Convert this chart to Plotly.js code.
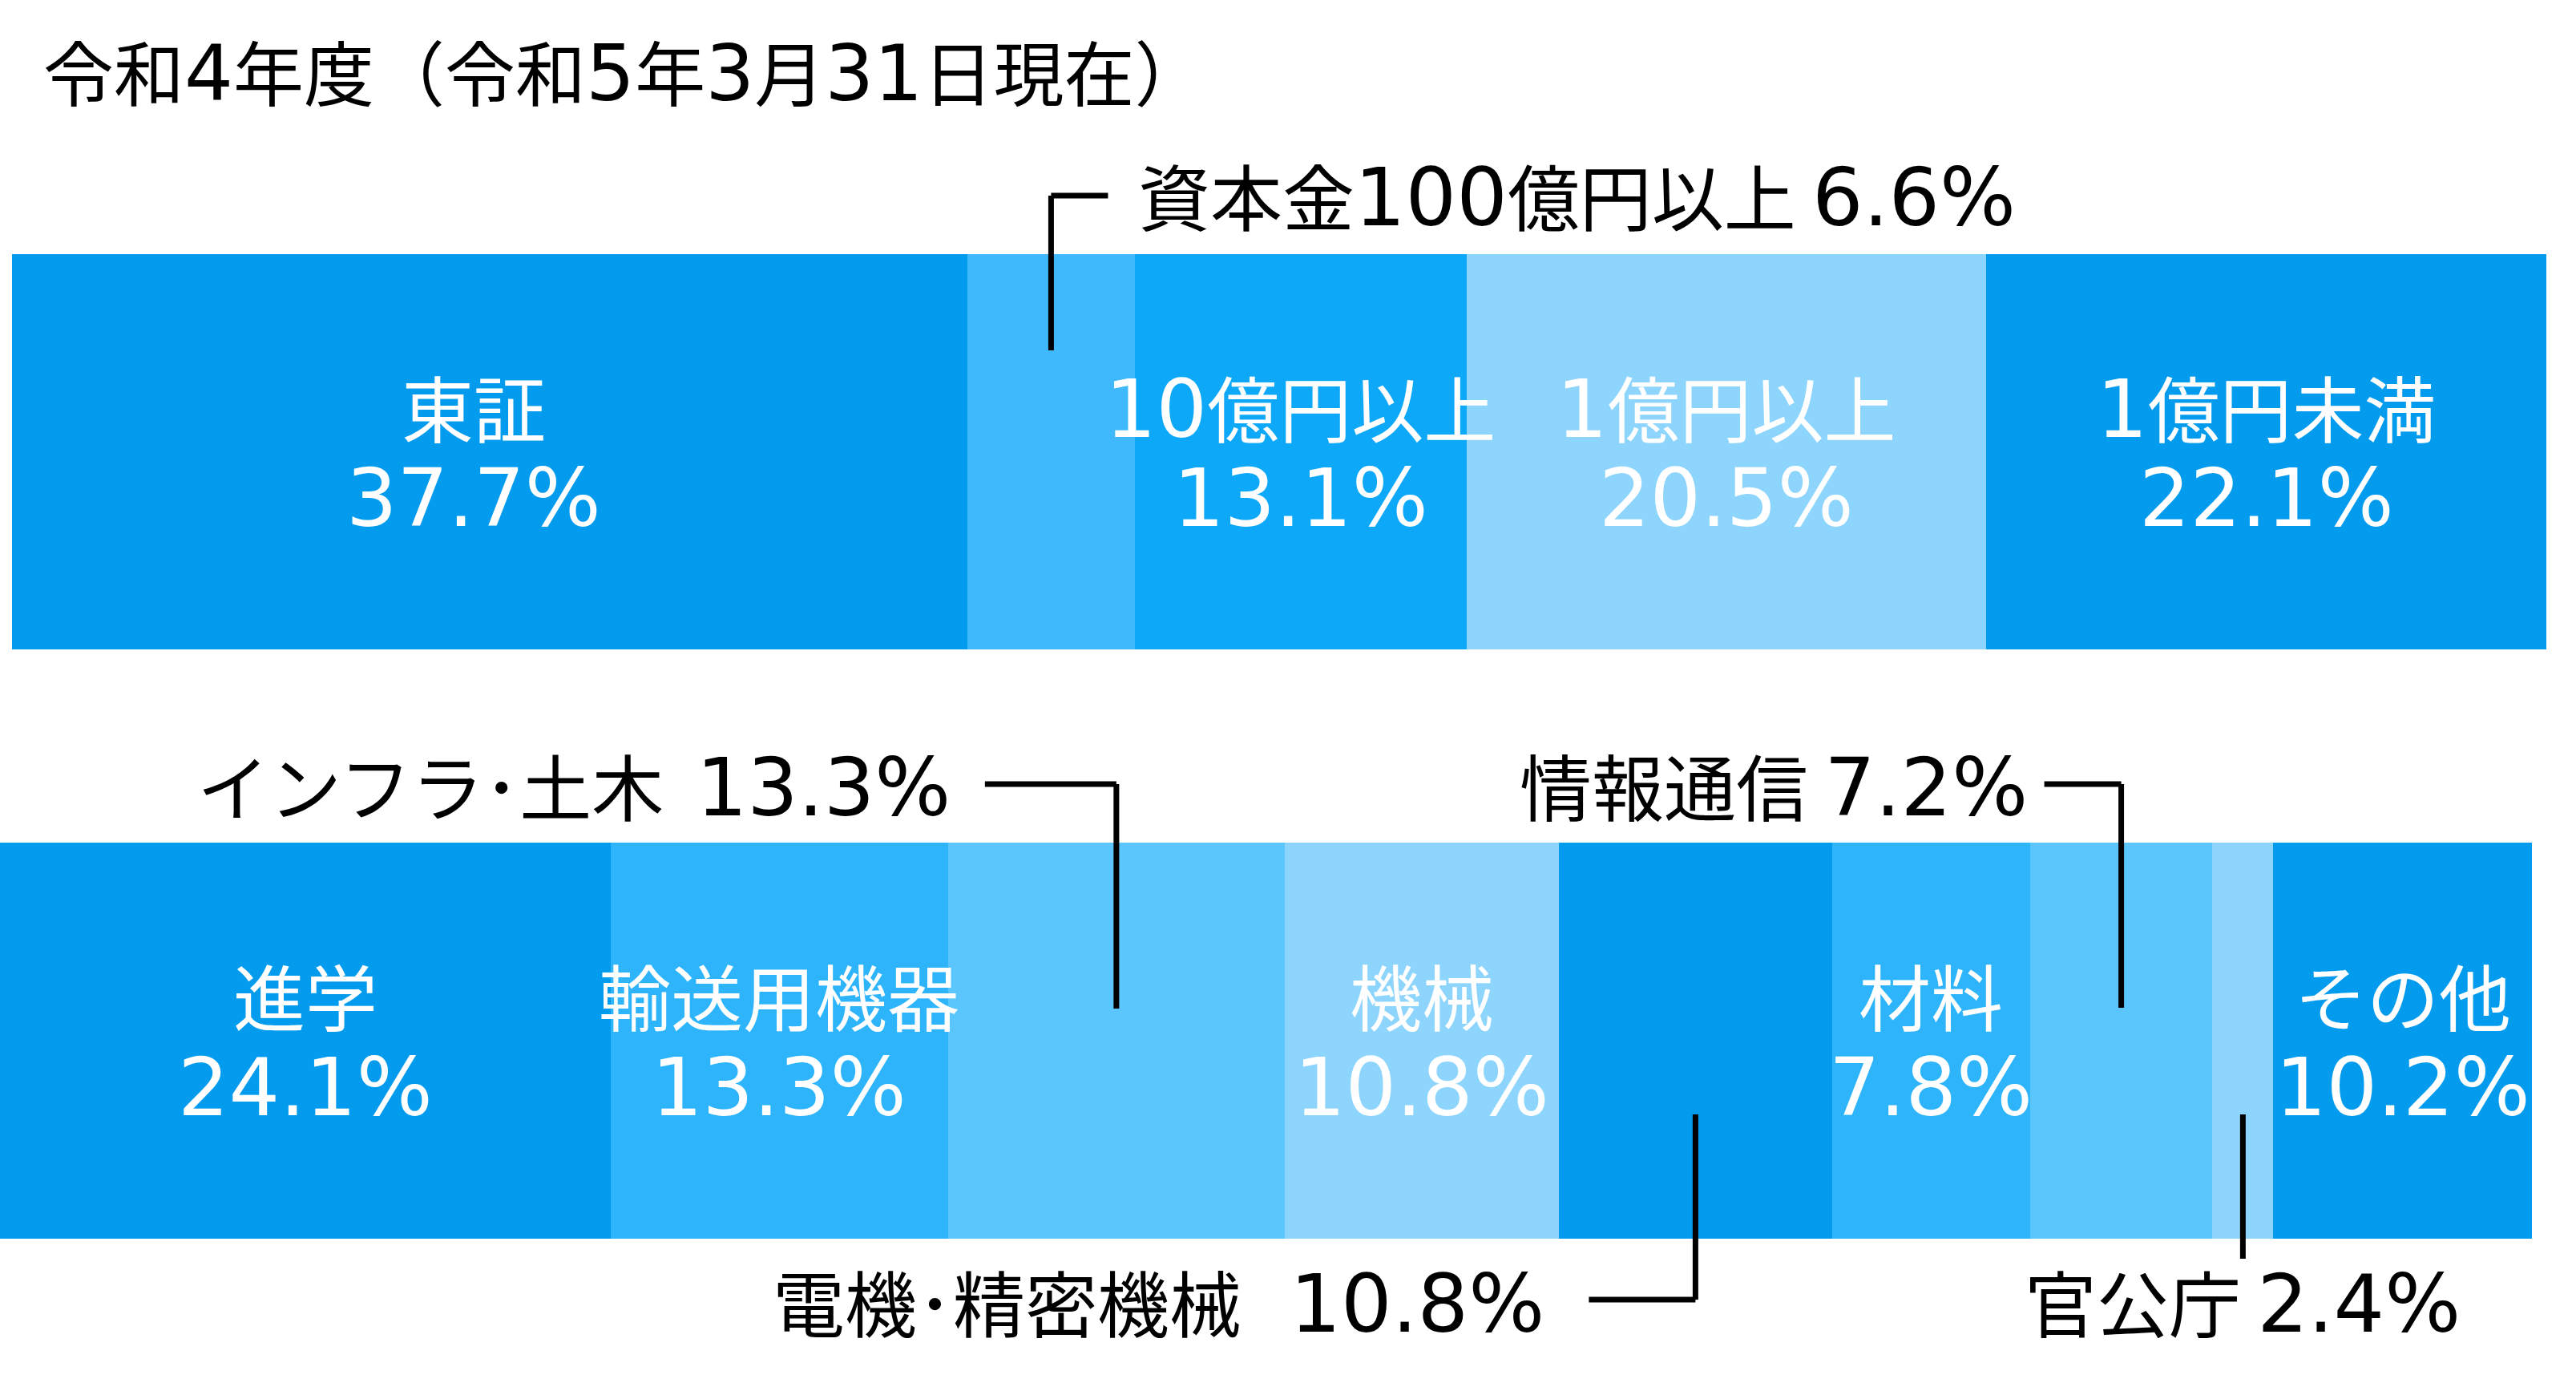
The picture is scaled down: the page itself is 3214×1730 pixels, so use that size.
<!DOCTYPE html>
<html><head><meta charset="utf-8">
<script src="https://cdn.plot.ly/plotly-3.0.1.min.js"></script>
<style>html,body{margin:0;padding:0;background:#fff}</style>
</head><body><div id="chart" style="width:3214px;height:1730px"></div>
<script>
// ---- data ----
const titleText = '令和4年度（令和5年3月31日現在）';
const topCategories = ['東証', '資本金100億円以上', '10億円以上', '1億円以上', '1億円未満'];
const topValues = [37.7, 6.6, 13.1, 20.5, 22.1];
const bottomCategories = ['進学', '輸送用機器', 'インフラ･土木', '機械', '電機･精密機械', '材料', '情報通信', '官公庁', 'その他'];
const bottomValues = [24.1, 13.3, 13.3, 10.8, 10.8, 7.8, 7.2, 2.4, 10.2];

// ---- styles ----
const W = 3214, H = 1730;
const FONT = "'Noto Sans CJK JP', 'Noto Sans', sans-serif";
const DIGIT_FONT = "'DejaVu Sans'";
const topColors = ['#039BEE', '#3FB9FB', '#0EA8F9', '#8ED5FD', '#039BEE'];
const bottomColors = ['#039BEE', '#2DB4FB', '#5BC5FD', '#8ED5FD', '#039BEE', '#2DB4FB', '#5BC5FD', '#8ED5FD', '#039BEE'];
const LABEL_SIZE = 90, DIGIT_SIZE = 100;
const labelShift = {'東証': -20};

// callout layout (pixel geometry relative to segment centre)
const callouts = {
  top: {
    '資本金100億円以上': {sep: ' ', lines: [[71, 244, 0, 244], [0, 244, 0, 437]], tx: 107, ty: 242, anchor: 'left'}
  },
  bottom: {
    'インフラ･土木': {sep: '  ', lines: [[-164, 978, 0, 978], [0, 978, 0, 1258]], tx: -205, ty: 978, anchor: 'right'},
    '情報通信': {sep: ' ', lines: [[-96, 978, 0, 978], [0, 978, 0, 1257]], tx: -115, ty: 978, anchor: 'right'},
    '電機･精密機械': {sep: '   ', lines: [[0, 1390, 0, 1621], [0, 1621, -133, 1621]], tx: -186, ty: 1622, anchor: 'right'},
    '官公庁': {sep: ' ', lines: [[0, 1390, 0, 1570]], tx: 0, ty: 1622, anchor: 'center'}
  }
};

function fmt(s, size) {
  return s.replace(/[0-9.%]+/g, m =>
    '<span style="font-family:' + DIGIT_FONT + ';font-size:' + size + 'px">' + m + '</span>');
}

const traces = [], annotations = [], shapes = [];
function addBar(cats, vals, colors, xa, ya, calloutCfg) {
  let cum = 0;
  cats.forEach((c, i) => {
    traces.push({
      type: 'bar', orientation: 'h', x: [vals[i]], y: [0], width: 1,
      xaxis: xa, yaxis: ya, marker: {color: colors[i], line: {width: 0}},
      hoverinfo: 'skip', showlegend: false, name: c
    });
    const ctr = cum + vals[i] / 2;
    cum += vals[i];
    const pct = vals[i].toFixed(1) + '%';
    const xr = xa === 'x' ? 'x' : 'x2';
    const yr = ya === 'y' ? 'y' : 'y2';
    const co = calloutCfg[c];
    if (!co) {
      const xs = labelShift[c] || 0;
      annotations.push({
        xref: xr, yref: yr, x: ctr, y: 0, xshift: xs, yshift: 58, yanchor: 'middle',
        showarrow: false, text: fmt(c, DIGIT_SIZE),
        font: {family: FONT, size: LABEL_SIZE, color: '#ffffff'}
      });
      annotations.push({
        xref: xr, yref: yr, x: ctr, y: 0, xshift: xs, yshift: -58, yanchor: 'middle',
        showarrow: false, text: fmt(pct, DIGIT_SIZE),
        font: {family: FONT, size: LABEL_SIZE, color: '#ffffff'}
      });
    } else {
      co.lines.forEach(l => shapes.push({
        type: 'line', xref: xr, xsizemode: 'pixel', xanchor: ctr,
        x0: l[0], x1: l[2], yref: 'paper', y0: 1 - l[1] / H, y1: 1 - l[3] / H,
        line: {color: '#000000', width: 7}
      }));
      annotations.push({
        xref: xr, yref: 'paper', x: ctr, xshift: co.tx, xanchor: co.anchor,
        y: 1 - co.ty / H, yanchor: 'middle', showarrow: false,
        text: fmt(c + co.sep + pct, DIGIT_SIZE),
        font: {family: FONT, size: LABEL_SIZE, color: '#000000'}
      });
    }
  });
}
addBar(topCategories, topValues, topColors, 'x', 'y', callouts.top);
addBar(bottomCategories, bottomValues, bottomColors, 'x2', 'y2', callouts.bottom);

annotations.push({
  xref: 'paper', yref: 'paper', x: 52 / W, xanchor: 'left', y: 1 - 87 / H, yanchor: 'middle',
  showarrow: false, text: fmt(titleText, 96), font: {family: FONT, size: 88, color: '#000000'}
});

const hidden = {visible: false, fixedrange: true, showgrid: false, zeroline: false};
const layout = {
  width: W, height: H, margin: {l: 0, r: 0, t: 0, b: 0},
  paper_bgcolor: '#ffffff', plot_bgcolor: 'rgba(0,0,0,0)',
  barmode: 'stack', bargap: 0, showlegend: false,
  xaxis: Object.assign({domain: [15 / W, 3177 / W], range: [0, 100], anchor: 'y'}, hidden),
  yaxis: Object.assign({domain: [1 - 810 / H, 1 - 317 / H], range: [-0.5, 0.5], anchor: 'x'}, hidden),
  xaxis2: Object.assign({domain: [0, 3162 / W], range: [0, 100], anchor: 'y2'}, hidden),
  yaxis2: Object.assign({domain: [1 - 1545 / H, 1 - 1051 / H], range: [-0.5, 0.5], anchor: 'x2'}, hidden),
  annotations: annotations, shapes: shapes
};
Plotly.newPlot('chart', traces, layout, {staticPlot: true, displayModeBar: false});
</script></body></html>
